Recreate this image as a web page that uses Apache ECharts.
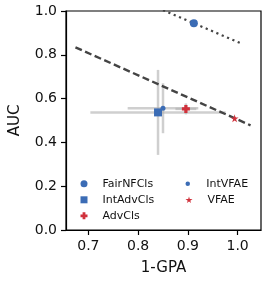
<!DOCTYPE html>
<html>
<head>
<meta charset="utf-8">
<script src="https://cdn.jsdelivr.net/npm/echarts@6/dist/echarts.min.js"></script>
<style>html,body{margin:0;padding:0;background:#fff}#c{width:266px;height:283px}</style>
</head>
<body>
<div id="c"></div>
<script>
const methods = ['FairNFCls', 'IntAdvCls', 'AdvCls', 'IntVFAE', 'VFAE'];
const gpa = [0.912, 0.840, 0.896, 0.850, 0.994];
const auc = [0.944, 0.537, 0.553, 0.556, 0.510];
const gpaErr = [0, 0.136, 0.021, 0.071, 0];
const aucErr = [0, 0.194, 0.025, 0.114, 0];
const dashedX = [0.674, 1.026];
const dashedY = [0.834, 0.478];
const dottedX = [0.85, 1.007];
const dottedY = [1.004, 0.852];
const xTicks = [0.7, 0.8, 0.9, 1.0];
const yTicks = [0, 0.2, 0.4, 0.6, 0.8, 1.0];

const BLUE = '#3b6cb5';
const RED = '#d0313b';
const PLUS = 'path://M3,0H7V3H10V7H7V10H3V7H0V3H3Z';
const STAR = 'path://M50,0L61,35L98,35L68,57L79,91L50,70L21,91L32,57L2,35L39,35Z';
const symbols = ['circle', 'rect', PLUS, 'circle', STAR];
const sizes = [8, 8, 8, 5, 8];
const colors = [BLUE, BLUE, RED, BLUE, RED];
const FONT = 'DejaVu Sans';

const chart = echarts.init(document.getElementById('c'), null, {renderer: 'canvas'});

const errData = methods.map((m, i) => [gpa[i], auc[i], gpaErr[i], aucErr[i]]);

const series = [
  {
    type: 'custom',
    z: 1,
    silent: true,
    data: errData,
    encode: {x: 0, y: 1},
    renderItem: function (params, api) {
      const x = api.value(0), y = api.value(1), ex = api.value(2), ey = api.value(3);
      const children = [];
      const st = {stroke: 'rgba(175,175,175,0.6)', lineWidth: 2.5};
      if (ex > 0) {
        const l = api.coord([x - ex, y]), r = api.coord([x + ex, y]);
        children.push({type: 'line', shape: {x1: l[0], y1: l[1], x2: r[0], y2: r[1]}, style: st});
      }
      if (ey > 0) {
        const t = api.coord([x, y + ey]), b = api.coord([x, y - ey]);
        children.push({type: 'line', shape: {x1: t[0], y1: t[1], x2: b[0], y2: b[1]}, style: st});
      }
      return {type: 'group', children: children};
    }
  },
  {
    type: 'line',
    z: 2,
    silent: true,
    symbol: 'none',
    clip: true,
    data: dashedX.map((x, i) => [x, dashedY[i]]),
    lineStyle: {color: '#444', width: 2.4, type: [7, 3.5]}
  },
  {
    type: 'line',
    z: 2,
    silent: true,
    symbol: 'none',
    clip: true,
    data: dottedX.map((x, i) => [x, dottedY[i]]),
    lineStyle: {color: '#444', width: 2.2, type: [2.2, 3.6]}
  }
];

methods.forEach((m, i) => {
  series.push({
    type: 'scatter',
    name: m,
    z: 3,
    symbol: symbols[i],
    symbolSize: sizes[i],
    itemStyle: {color: colors[i], opacity: 1},
    data: [[gpa[i], auc[i]]]
  });
});

const legendBase = {
  orient: 'vertical',
  itemWidth: 7,
  itemHeight: 7,
  itemGap: 5,
  textStyle: {fontFamily: FONT, fontSize: 11, color: '#111', padding: [0, 0, 0, 10]},
  padding: 0,
  selectedMode: false
};

chart.setOption({
  animation: false,
  backgroundColor: '#fff',
  grid: {left: 62, top: 11, right: 5, bottom: 53, show: true, borderColor: '#000', borderWidth: 1.2, backgroundColor: 'transparent'},
  legend: [
    Object.assign({}, legendBase, {left: 80.5, top: 178.3, data: methods.slice(0, 3)}),
    Object.assign({}, legendBase, {left: 185.5, top: 178.3, itemHeight: 4.5, data: [methods[3]]}),
    Object.assign({}, legendBase, {left: 185.5, top: 194.3, data: [methods[4]]})
  ],
  xAxis: {
    type: 'value',
    min: 0.655,
    max: 1.047,
    name: '1-GPA',
    nameLocation: 'middle',
    nameGap: 31,
    nameTextStyle: {fontFamily: FONT, fontSize: 15, color: '#111'},
    splitLine: {show: false},
    axisLine: {show: true, lineStyle: {color: '#000', width: 1.2}},
    axisTick: {show: true, inside: false, length: 5, customValues: xTicks, lineStyle: {color: '#000', width: 1.2}},
    axisLabel: {customValues: xTicks, margin: 9, fontFamily: FONT, fontSize: 14, color: '#111', formatter: v => v.toFixed(1)}
  },
  yAxis: {
    type: 'value',
    min: 0,
    max: 1,
    interval: 0.2,
    name: 'AUC',
    nameLocation: 'middle',
    nameGap: 43,
    nameTextStyle: {fontFamily: FONT, fontSize: 15, color: '#111'},
    splitLine: {show: false},
    axisLine: {show: true, lineStyle: {color: '#000', width: 1.2}},
    axisTick: {show: true, inside: false, length: 5, lineStyle: {color: '#000', width: 1.2}},
    axisLabel: {margin: 9, fontFamily: FONT, fontSize: 14, color: '#111', formatter: v => v.toFixed(1)}
  },
  series: series
});
</script>
</body>
</html>
